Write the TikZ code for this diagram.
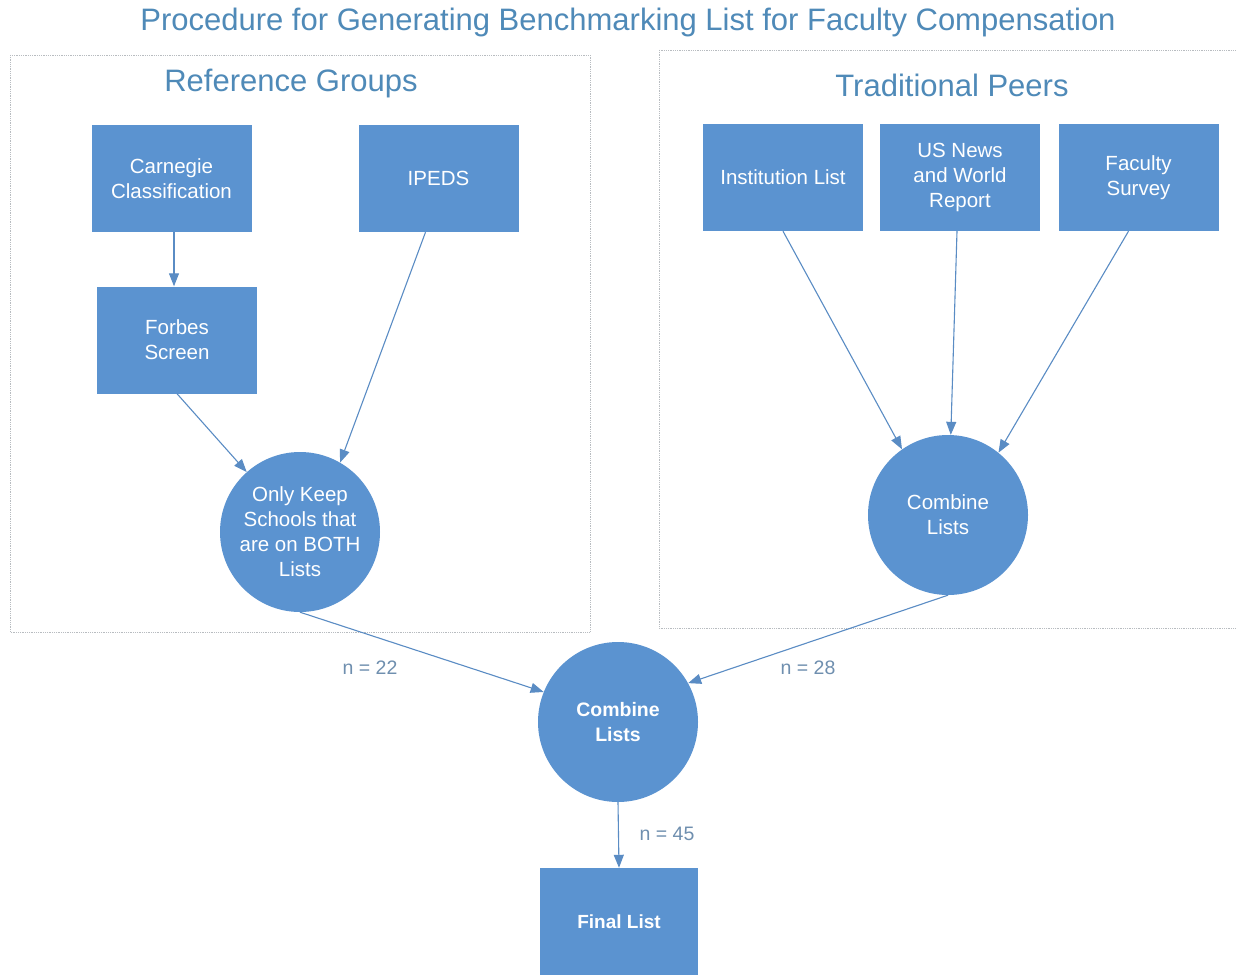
\documentclass[tikz,border=0pt]{standalone}
\usepackage{fontspec}
\setmainfont{Liberation Sans}
\usetikzlibrary{arrows.meta,calc}
\definecolor{boxblue}{HTML}{5B93D0}
\definecolor{arrblue}{HTML}{5A8CC4}
\definecolor{titleblue}{HTML}{4F8AB8}
\definecolor{labgray}{HTML}{6F8FAF}
\definecolor{framegray}{HTML}{B8BCC0}
\tikzset{
  x=1pt, y=-1pt,
  boxnode/.style={rectangle, fill=boxblue, minimum width=160pt, minimum height=107pt,
    inner sep=0pt, align=center, text=white, font=\fontsize{20.5}{25}\selectfont},
  circnode/.style={circle, fill=boxblue, minimum size=160pt, inner sep=0pt,
    align=center, text=white, font=\fontsize{20.5}{25}\selectfont},
  flow/.style={draw=arrblue, line width=1.1pt, -{Triangle[length=13pt,width=10pt]}},
  frame/.style={draw=framegray, densely dotted, line width=0.8pt},
  grouptitle/.style={text=titleblue, font=\fontsize{31}{34}\selectfont},
  countlabel/.style={text=labgray, font=\fontsize{19.5}{22}\selectfont}
}
\begin{document}
\begin{tikzpicture}
\useasboundingbox (0,0) rectangle (1236,979);
\fill[white] (0,0) rectangle (1236,979);
\node[text=titleblue, font=\fontsize{31}{34}\selectfont] (title) at (628,22) {Procedure for Generating Benchmarking List for Faculty Compensation};
\draw[frame] (10,55) rectangle (590,632);
\draw[frame] (659,50) rectangle (1236,628);
\node[grouptitle] (reftitle) at (291,84) {Reference Groups};
\node[grouptitle] (tradtitle) at (952,85) {Traditional Peers};

\node[boxnode] (carnegie) at (171.5,178.5) {Carnegie\\Classification};
\node[boxnode] (ipeds) at (438.5,178.5) {IPEDS};
\node[boxnode] (forbes) at (177,340) {Forbes\\Screen};
\node[boxnode] (inst) at (783,177.5) {Institution List};
\node[boxnode] (usnews) at (960,177.5) {US News\\and World\\Report};
\node[boxnode] (faculty) at (1138.5,177.5) {Faculty\\Survey};

\node[circnode] (okeep) at (300,532) {Only Keep\\Schools that\\are on BOTH\\Lists};
\node[circnode] (comb1) at (948,515) {Combine\\Lists};
\node[circnode, font=\bfseries\fontsize{19.5}{25}\selectfont] (comb2) at (618,722) {Combine\\Lists};
\node[boxnode, minimum width=158pt, font=\bfseries\fontsize{19}{25}\selectfont] (final) at (619,921.5) {Final List};

\draw[flow] ($(carnegie.south)+(2.5,0)$) -- ($(forbes.north)+(-3,0)$);
\draw[flow] (forbes.south) -- (okeep);
\draw[flow] ($(ipeds.south)+(-13,0)$) -- (okeep.60);
\draw[flow] (inst.south) -- (comb1.125);
\draw[flow] ($(usnews.south)+(-3,0)$) -- (comb1.88);
\draw[flow] ($(faculty.south)+(-10,0)$) -- (comb1.51);
\draw[flow] (okeep.south) -- (comb2.158);
\draw[flow] (comb1.south) -- (comb2.29);
\draw[flow] (comb2.south) -- (final.north);

\node[countlabel] (n22) at (370,668) {n = 22};
\node[countlabel] (n28) at (808,668) {n = 28};
\node[countlabel] (n45) at (667,834) {n = 45};
\end{tikzpicture}
\end{document}
